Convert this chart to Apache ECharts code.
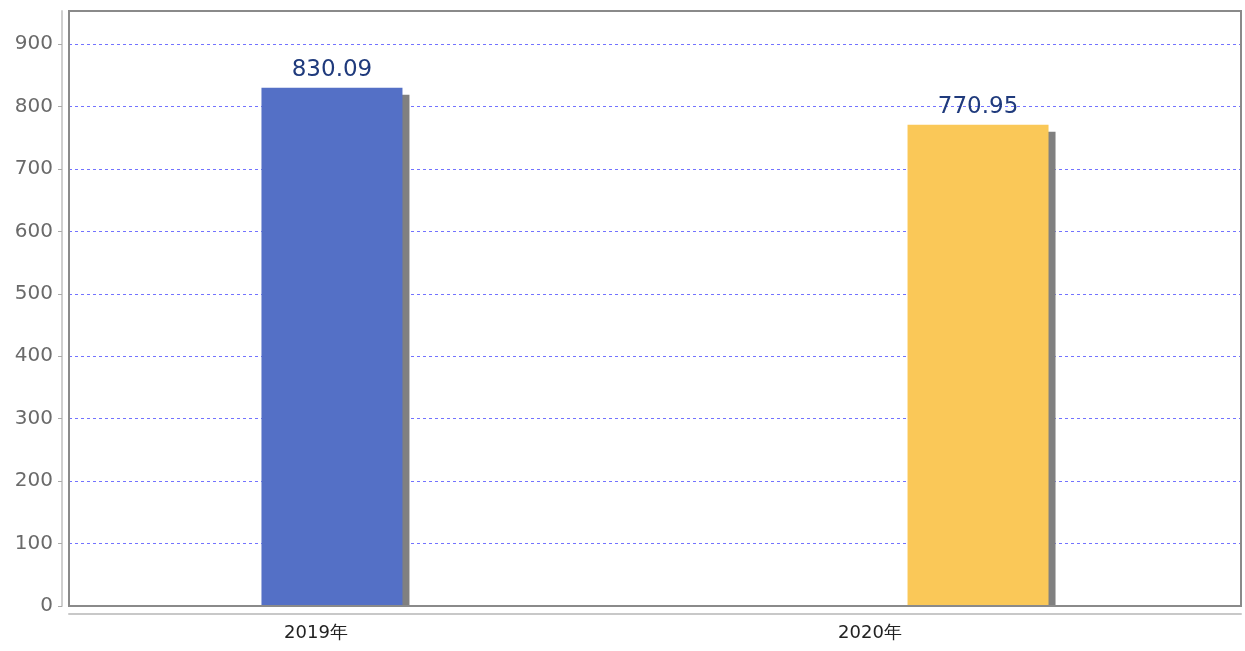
<!DOCTYPE html>
<html>
<head>
<meta charset="utf-8">
<script src="https://cdn.jsdelivr.net/npm/echarts@6/dist/echarts.min.js"></script>
<style>html,body{margin:0;padding:0;background:#fff;}#c{width:1245px;height:651px;}</style>
</head>
<body>
<div id="c"></div>
<script>
const categories = ['2019年', '2020年'];
const values2019 = [830.09, '-'];
const values2020 = ['-', 770.95];
const yTicks = [0, 100, 200, 300, 400, 500, 600, 700, 800, 900];

const chart = echarts.init(document.getElementById('c'));
const valueLabel = {
  show: true, position: 'top', distance: 6,
  fontFamily: 'DejaVu Sans', fontSize: 23, color: '#1f3a7c',
  formatter: p => p.value.toFixed(2)
};
const shadow = { shadowColor: '#808080', shadowBlur: 0, shadowOffsetX: 7, shadowOffsetY: 7 };
chart.setOption({
  animation: false,
  grid: { left: 69, right: 4, top: 11, bottom: 45, show: false },
  xAxis: {
    type: 'category',
    data: [
      { value: categories[0], textStyle: { padding: [0, 92, 0, 0] } },
      { value: categories[1], textStyle: { padding: [0, 156, 0, 0] } }
    ],
    offset: 8,
    z: 120,
    axisLine: { onZero: false, lineStyle: { color: '#c8c8c8', width: 2 } },
    axisTick: { length: 4, lineStyle: { color: '#999' } },
    axisLabel: { fontFamily: 'DejaVu Sans', fontSize: 18, color: '#222', margin: 10 },
    splitLine: { show: false }
  },
  yAxis: {
    type: 'value', min: 0, max: 953, interval: 100,
    offset: 7,
    axisLine: { show: true, lineStyle: { color: '#cfcfcf', width: 2 } },
    axisTick: { show: true, length: 4, customValues: yTicks, lineStyle: { color: '#aaa' } },
    axisLabel: {
      fontFamily: 'DejaVu Sans', fontSize: 20, color: '#6a6a6a', margin: 9,
      formatter: v => yTicks.indexOf(v) >= 0 ? String(v) : ''
    },
    splitLine: { show: true, lineStyle: { color: '#7373ff', type: [3, 3], width: 1 } }
  },
  graphic: [
    { type: 'rect', z: 99, silent: true, shape: { x: 69, y: 607, width: 1176, height: 6 }, style: { fill: '#fff' } },
    { type: 'rect', z: 100, silent: true, shape: { x: 69, y: 11, width: 1172, height: 595 }, style: { fill: 'none', stroke: '#8a8a8a', lineWidth: 2 } }
  ],
  series: [
    { type: 'bar', data: values2019, barWidth: 141, barGap: '-57.4%', itemStyle: Object.assign({ color: '#5470c6' }, shadow), label: valueLabel },
    { type: 'bar', data: values2020, barWidth: 141, barGap: '-57.4%', itemStyle: Object.assign({ color: '#fac858' }, shadow), label: valueLabel }
  ]
});
</script>
</body>
</html>
